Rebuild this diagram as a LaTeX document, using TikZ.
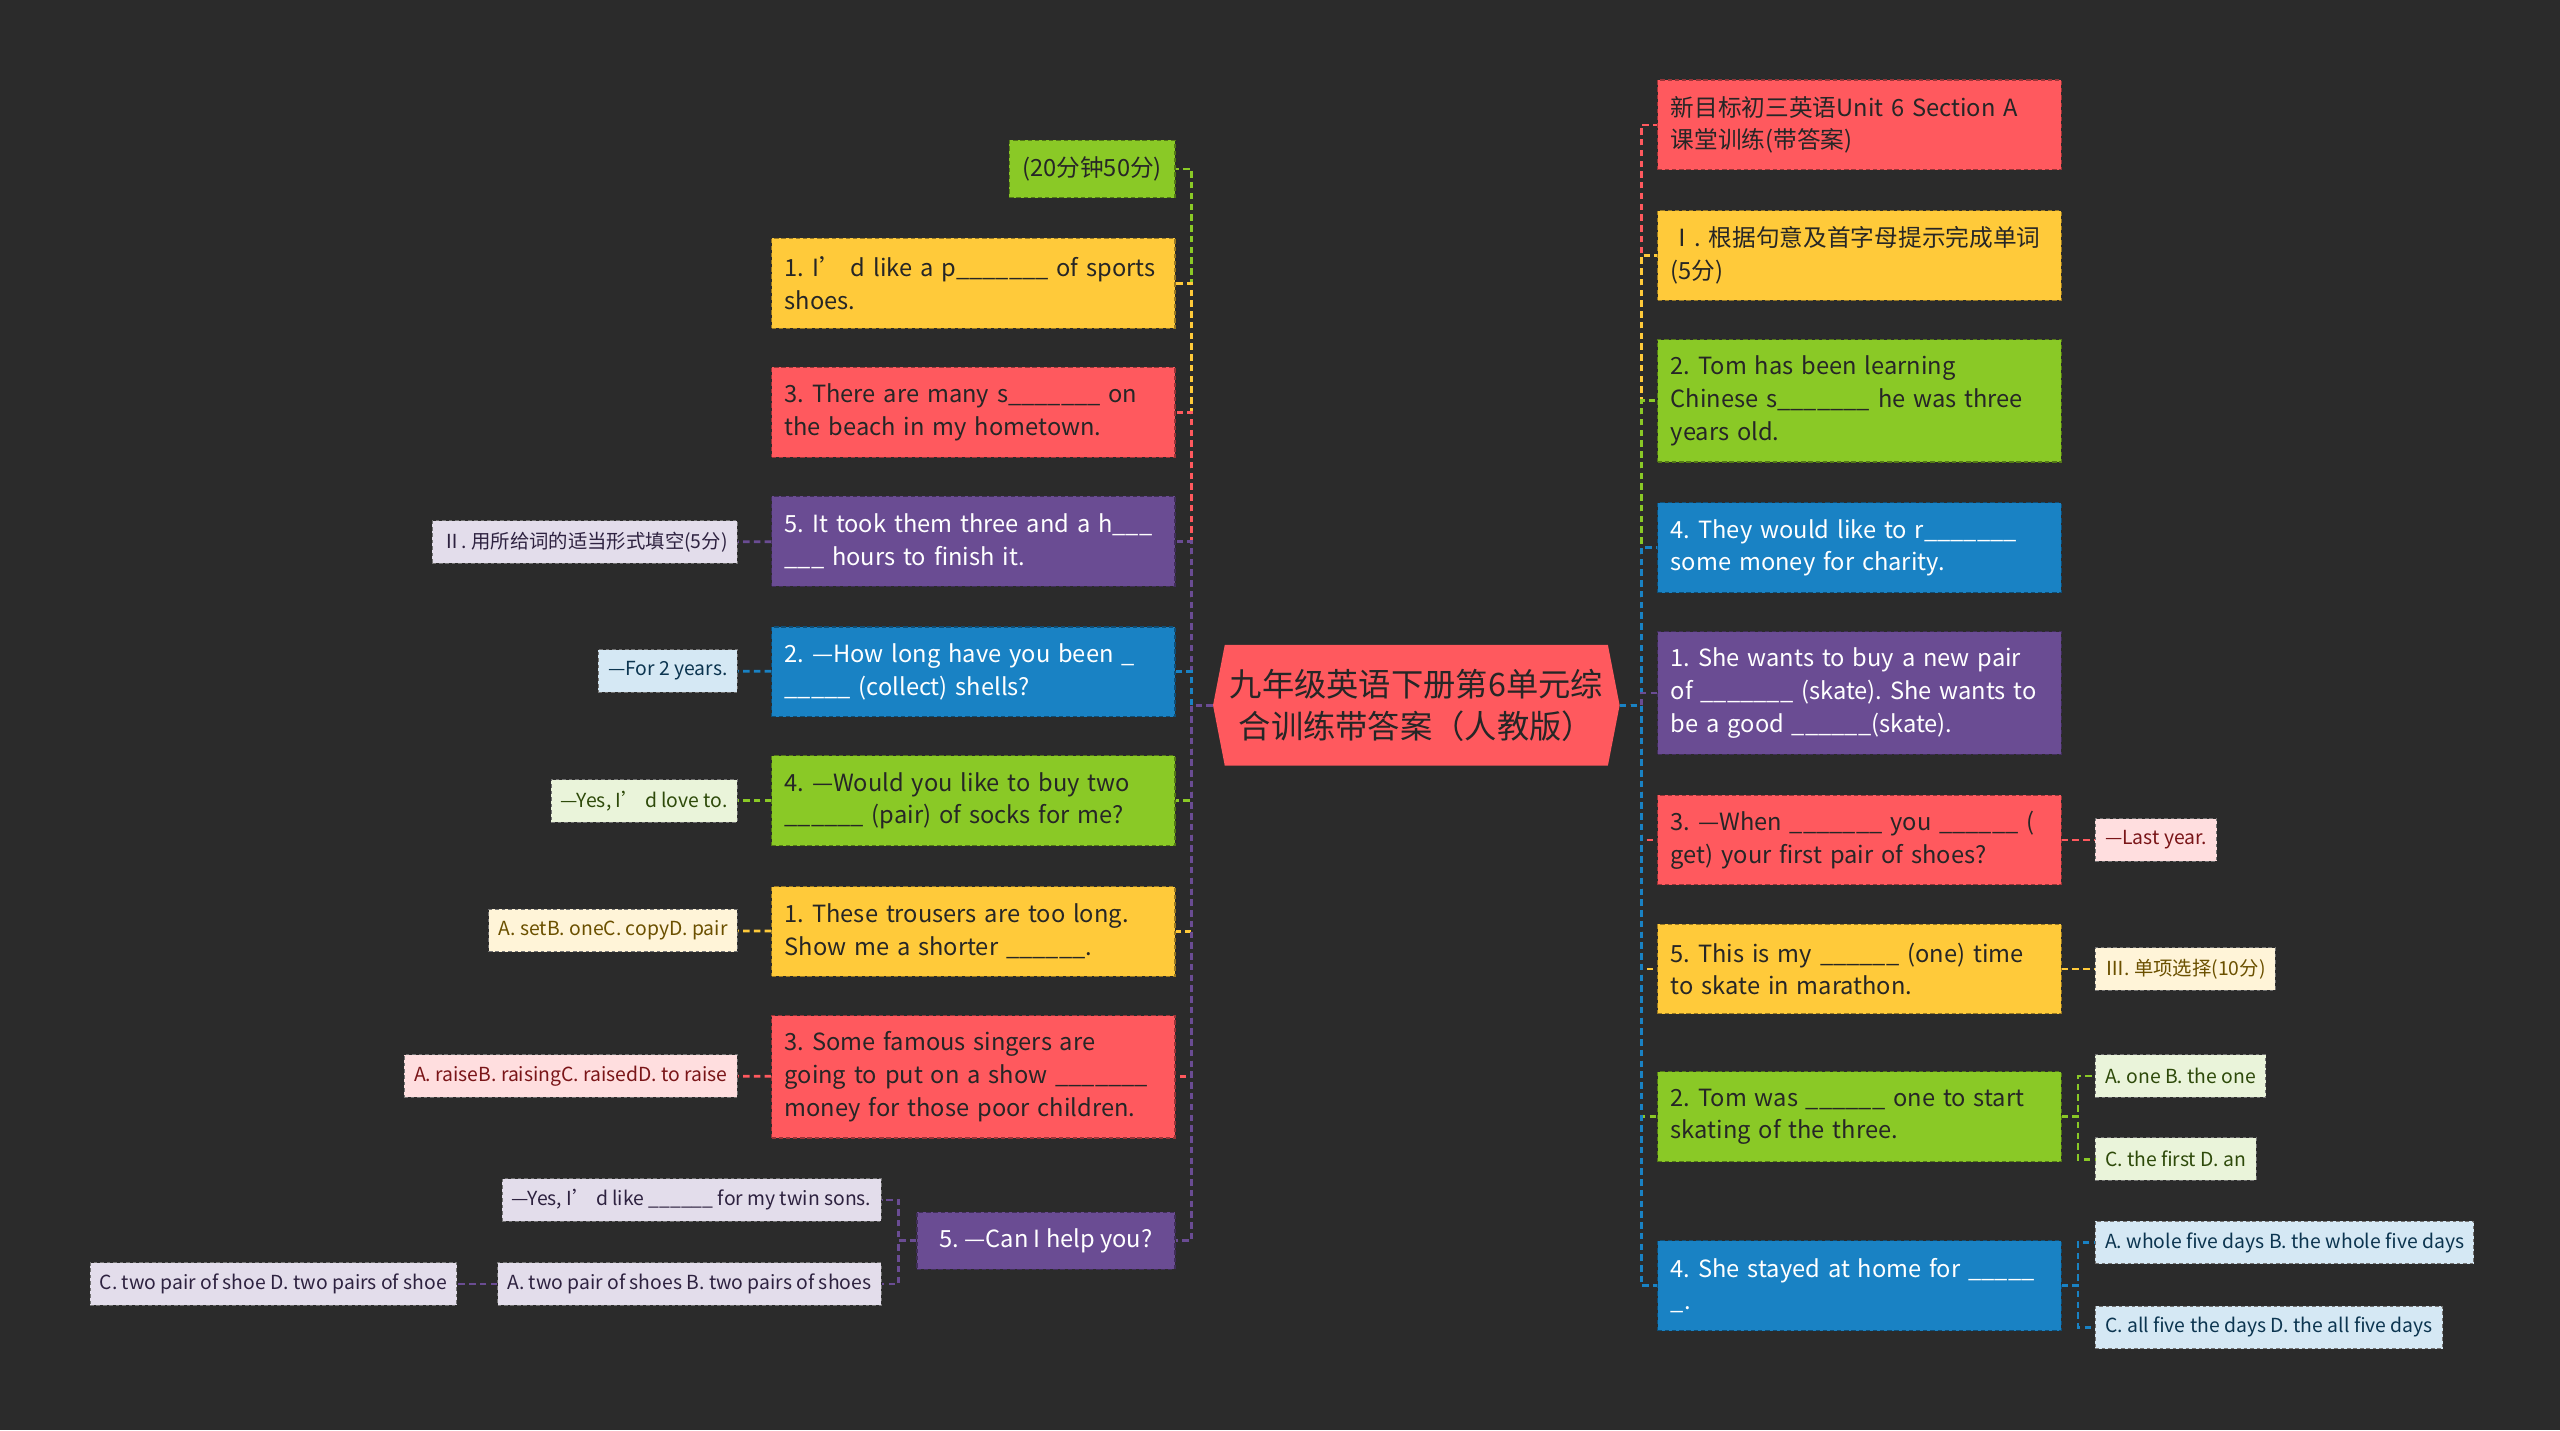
\documentclass[tikz,border=0pt]{standalone}
\usepackage{fontspec}
\setmainfont{Noto Sans CJK SC}
\usetikzlibrary{shapes.symbols}
\frenchspacing

\definecolor{bgdark}{HTML}{2B2B2B}
\definecolor{cred}{HTML}{FF595E}
\definecolor{cyel}{HTML}{FFCA3A}
\definecolor{cgrn}{HTML}{8AC926}
\definecolor{cblu}{HTML}{1982C4}
\definecolor{cpur}{HTML}{6A4C93}
\definecolor{lred}{HTML}{FFDEDF}
\definecolor{lyel}{HTML}{FFF4D8}
\definecolor{lgrn}{HTML}{EAF4DA}
\definecolor{lblu}{HTML}{D5E8F4}
\definecolor{lpur}{HTML}{E3DDEB}
\definecolor{dred}{HTML}{7A1518}
\definecolor{dyel}{HTML}{6B5000}
\definecolor{dgrn}{HTML}{2E4A0A}
\definecolor{dblu}{HTML}{0C3550}
\definecolor{dpur}{HTML}{2E2240}

\tikzset{
  conn/.style={line width=1.9pt, dash pattern=on 4.5pt off 3pt},
  bigbox/.style={draw=#1!60!black, fill=#1, line width=0.8pt, dash pattern=on 3pt off 2pt,
    text width=9.24cm, align=left, inner xsep=0.32cm, minimum height=2.2cm,
    font=\fontsize{16.5}{22.8}\selectfont},
  tallbox/.style={bigbox=#1, minimum height=3cm},
  tagbox/.style={draw=#1!60!black, fill=#1, line width=0.8pt, dash pattern=on 3pt off 2pt,
    inner xsep=0.32cm, minimum height=1.4cm, font=\fontsize{16.5}{22.8}\selectfont},
  smallbox/.style={draw=black!55, fill=#1, line width=0.7pt, dash pattern=on 2.5pt off 2pt,
    inner xsep=0.24cm, minimum height=1.04cm, font=\fontsize{13.5}{16}\selectfont},
  rootbox/.style={signal, signal to=west and east, signal pointer angle=158, fill=cred,
    minimum width=9.96cm, minimum height=2.96cm, align=center, text=black!85,
    font=\fontsize{22.5}{29.5}\selectfont}
}

\begin{document}
\begin{tikzpicture}[x=0.04cm, y=-0.04cm]
  \fill[bgdark] (0,0) rectangle (1568,876);
  \useasboundingbox (0,0) rectangle (1568,876);

  % centre
  \node[rootbox] (root) at (867.5,432) {九年级英语下册第6单元综\\合训练带答案（人教版）};

  % left branches
  \node[tagbox=cgrn, anchor=east, text=black!85] (l0) at (720,103.5) {(20分钟50分)};
  \node[bigbox=cyel, anchor=east, text=black!85] (l1) at (720,173.5) {1. I’ d like a p\_\_\_\_\_\_\_ of sports\\shoes.};
  \node[bigbox=cred, anchor=east, text=black!85] (l2) at (720,252.5) {3. There are many s\_\_\_\_\_\_\_ on\\the beach in my hometown.};
  \node[bigbox=cpur, anchor=east, text=white] (l3) at (720,331.5) {5. It took them three and a h\_\_\_\\\_\_\_ hours to finish it.};
  \node[bigbox=cblu, anchor=east, text=white] (l4) at (720,411.5) {2. —How long have you been \_\\\_\_\_\_\_ (collect) shells?};
  \node[bigbox=cgrn, anchor=east, text=black!85] (l5) at (720,490.5) {4. —Would you like to buy two\\\_\_\_\_\_\_ (pair) of socks for me?};
  \node[bigbox=cyel, anchor=east, text=black!85] (l6) at (720,570.5) {1. These trousers are too long.\\Show me a shorter \_\_\_\_\_\_.};
  \node[tallbox=cred, anchor=east, text=black!85] (l7) at (720,659.5) {3. Some famous singers are\\going to put on a show \_\_\_\_\_\_\_\\money for those poor children.};
  \node[tagbox=cpur, anchor=east, text=white, minimum width=6.32cm] (l8) at (720,760) {5. —Can I help you?};

  % left answers
  \node[smallbox=lpur, anchor=east, text=dpur] (la3) at (452,332) {Ⅱ. 用所给词的适当形式填空(5分)};
  \node[smallbox=lblu, anchor=east, text=dblu] (la4) at (452,411) {—For 2 years.};
  \node[smallbox=lgrn, anchor=east, text=dgrn] (la5) at (452,490.5) {—Yes, I’ d love to.};
  \node[smallbox=lyel, anchor=east, text=dyel] (la6) at (452,570) {A. setB. oneC. copyD. pair};
  \node[smallbox=lred, anchor=east, text=dred] (la7) at (452,659) {A. raiseB. raisingC. raisedD. to raise};
  \node[smallbox=lpur, anchor=east, text=dpur] (la8) at (540,735) {—Yes, I’ d like \_\_\_\_\_\_ for my twin sons.};
  \node[smallbox=lpur, anchor=east, text=dpur] (lb8) at (540,786.5) {A. two pair of shoes B. two pairs of shoes};
  \node[smallbox=lpur, anchor=east, text=dpur] (lc8) at (280,786.5) {C. two pair of shoe D. two pairs of shoe};

  % right branches
  \node[bigbox=cred, anchor=west, text=black!85] (r1) at (1015,76.5) {新目标初三英语Unit 6 Section A\\课堂训练(带答案)};
  \node[bigbox=cyel, anchor=west, text=black!85] (r2) at (1015,156.5) {Ⅰ. 根据句意及首字母提示完成单词\\(5分)};
  \node[tallbox=cgrn, anchor=west, text=black!85] (r3) at (1015,245.5) {2. Tom has been learning\\Chinese s\_\_\_\_\_\_\_ he was three\\years old.};
  \node[bigbox=cblu, anchor=west, text=white] (r4) at (1015,335.5) {4. They would like to r\_\_\_\_\_\_\_\\some money for charity.};
  \node[tallbox=cpur, anchor=west, text=white] (r5) at (1015,424.5) {1. She wants to buy a new pair\\of \_\_\_\_\_\_\_ (skate). She wants to\\be a good \_\_\_\_\_\_(skate).};
  \node[bigbox=cred, anchor=west, text=black!85] (r6) at (1015,514.5) {\mbox{3. —When \_\_\_\_\_\_\_ you \_\_\_\_\_\_ (}\\get) your first pair of shoes?};
  \node[bigbox=cyel, anchor=west, text=black!85] (r7) at (1015,593.5) {5. This is my \_\_\_\_\_\_ (one) time\\to skate in marathon.};
  \node[bigbox=cgrn, anchor=west, text=black!85] (r8) at (1015,684) {2. Tom was \_\_\_\_\_\_ one to start\\skating of the three.};
  \node[bigbox=cblu, anchor=west, text=white] (r9) at (1015,787.5) {4. She stayed at home for \_\_\_\_\_\\\_.};

  % right answers
  \node[smallbox=lred, anchor=west, text=dred] (ra6) at (1283,514.5) {—Last year.};
  \node[smallbox=lyel, anchor=west, text=dyel] (ra7) at (1283,593.5) {Ⅲ. 单项选择(10分)};
  \node[smallbox=lgrn, anchor=west, text=dgrn] (ra8) at (1283,659) {A. one B. the one};
  \node[smallbox=lgrn, anchor=west, text=dgrn] (rb8) at (1283,710) {C. the first D. an};
  \node[smallbox=lblu, anchor=west, text=dblu] (ra9) at (1283,761) {A. whole five days B. the whole five days};
  \node[smallbox=lblu, anchor=west, text=dblu] (rb9) at (1283,813) {C. all five the days D. the all five days};

  % connectors
  \foreach \n/\c in {l0/cgrn, l1/cyel, l2/cred, l3/cpur, l4/cblu, l5/cgrn, l6/cyel, l7/cred, l8/cpur}
    \draw[conn, \c] (root.west) -- ++(-13,0) |- (\n.east);
  \foreach \n/\c in {r1/cred, r2/cyel, r3/cgrn, r4/cblu, r5/cpur, r6/cred, r7/cyel, r8/cgrn, r9/cblu}
    \draw[conn, \c] (root.east) -- ++(13,0) |- (\n.west);
  \foreach \a/\b/\c in {l3/la3/cpur, l4/la4/cblu, l5/la5/cgrn, l6/la6/cyel, l7/la7/cred, lb8/lc8/cpur, r6/ra6/cred, r7/ra7/cyel}
    \draw[conn, \c] (\a) -- (\b);
  \draw[conn, cpur] (l8.west) -- ++(-11,0) |- (la8.east);
  \draw[conn, cpur] (l8.west) -- ++(-11,0) |- (lb8.east);
  \draw[conn, cgrn] (r8.east) -- ++(10,0) |- (ra8.west);
  \draw[conn, cgrn] (r8.east) -- ++(10,0) |- (rb8.west);
  \draw[conn, cblu] (r9.east) -- ++(10,0) |- (ra9.west);
  \draw[conn, cblu] (r9.east) -- ++(10,0) |- (rb9.west);
\end{tikzpicture}
\end{document}
